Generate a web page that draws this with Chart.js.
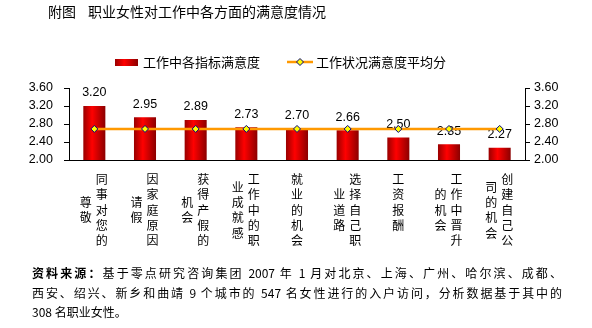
<!DOCTYPE html>
<html>
<head>
<meta charset="utf-8">
<script src="https://cdn.jsdelivr.net/npm/chart.js@4.4.1/dist/chart.umd.min.js"></script>
<style>
  body { margin: 0; background: #fff; }
  #wrap { position: relative; width: 592px; height: 328px; overflow: hidden; }
  #chart1 { position: absolute; left: 0; top: 0; }
  .title { position: absolute; left: 48px; top: 2px; font: 14px "Noto Sans CJK SC"; line-height: 18px; color: #000; white-space: nowrap; }
  .title span { margin-left: 12px; }
  .source { position: absolute; left: 32px; top: 263px; width: 530px; font: 12px "Noto Sans CJK SC"; line-height: 19.5px; color: #000; }
  .source .j { text-align: justify; text-align-last: justify; }
  .source b { font-weight: bold; }
</style>
</head>
<body>
<div id="wrap">
  <canvas id="chart1" width="592" height="328"></canvas>
  <div class="title">附图<span>职业女性对工作中各方面的满意度情况</span></div>
  <div class="source">
    <div class="j"><b>资料来源：</b>基于零点研究咨询集团 2007 年 1 月对北京、上海、广州、哈尔滨、成都、</div>
    <div class="j">西安、绍兴、新乡和曲靖 9 个城市的 547 名女性进行的入户访问，分析数据基于其中的</div>
    <div>308 名职业女性。</div>
  </div>
</div>
<script>
const categories = ['同事对您的尊敬', '因家庭原因请假', '获得产假的机会', '工作中的职业成就感', '就业的机会', '选择自己职业道路', '工资报酬', '工作中晋升的机会', '创建自己公司的机会'];
const satisfaction = [3.20, 2.95, 2.89, 2.73, 2.70, 2.66, 2.50, 2.35, 2.27];
const averageScore = [2.69, 2.69, 2.69, 2.69, 2.69, 2.69, 2.69, 2.69, 2.69];
const yTicks = [2.00, 2.40, 2.80, 3.20, 3.60];

const barPct = 0.435;

function redGradient(ctx, left, right) {
  const g = ctx.createLinearGradient(left, 0, right, 0);
  g.addColorStop(0, '#990000');
  g.addColorStop(0.4, '#ff0000');
  g.addColorStop(1, '#8b0000');
  return g;
}

// value labels above the bars
const valueLabels = {
  id: 'valueLabels',
  afterDatasetDraw(chart, args) {
    if (args.index !== 0) return;
    const ctx = chart.ctx;
    ctx.save();
    ctx.font = '12.5px "Liberation Sans"';
    ctx.fillStyle = '#000';
    ctx.textAlign = 'center';
    ctx.textBaseline = 'middle';
    args.meta.data.forEach((el, i) => {
      ctx.fillText(satisfaction[i].toFixed(2), el.x, el.y - 13);
    });
    ctx.restore();
  }
};

// vertical category labels, 5 chars per column, first column on the right
const categoryLabels = {
  id: 'categoryLabels',
  afterDraw(chart) {
    const { ctx, scales: { x }, chartArea } = chart;
    ctx.save();
    ctx.font = '12px "Noto Sans CJK SC"';
    ctx.fillStyle = '#000';
    ctx.textAlign = 'center';
    ctx.textBaseline = 'middle';
    const rowH = 15.35;
    const top = chartArea.bottom + 19.5;
    categories.forEach((name, i) => {
      const cx = x.getPixelForValue(i);
      const chars = Array.from(name);
      const cols = [chars.slice(0, 5), chars.slice(5)].filter(c => c.length);
      cols.forEach((col, k) => {
        const colX = cols.length === 1 ? cx : (k === 0 ? cx + 7.5 : cx - 8.5);
        const shift = k === 0 ? 0 : (5 - col.length) / 2;
        col.forEach((ch, r) => ctx.fillText(ch, colX, top + (r + shift) * rowH));
      });
    });
    ctx.restore();
  }
};

// legend drawn by hand to get the box + line-with-diamond look
const customLegend = {
  id: 'customLegend',
  afterDraw(chart) {
    const ctx = chart.ctx;
    const ds = chart.data.datasets;
    const y = 62;
    ctx.save();
    ctx.fillStyle = redGradient(ctx, 115, 138);
    ctx.fillRect(115, 59, 23, 7);
    ctx.strokeStyle = '#ff9900';
    ctx.lineWidth = 2.5;
    ctx.beginPath();
    ctx.moveTo(287, y);
    ctx.lineTo(313, y);
    ctx.stroke();
    ctx.fillStyle = '#ffff00';
    ctx.strokeStyle = '#000080';
    ctx.lineWidth = 1;
    ctx.beginPath();
    ctx.moveTo(300, y - 3.5);
    ctx.lineTo(303.5, y);
    ctx.lineTo(300, y + 3.5);
    ctx.lineTo(296.5, y);
    ctx.closePath();
    ctx.fill();
    ctx.stroke();
    ctx.font = '13px "Noto Sans CJK SC"';
    ctx.fillStyle = '#000';
    ctx.textBaseline = 'middle';
    ctx.fillText(ds[0].label, 143, y);
    ctx.fillText(ds[1].label, 316, y);
    ctx.restore();
  }
};

const yAxis = (position, width, pad) => ({
  type: 'linear',
  position: position,
  min: 2,
  max: 3.6,
  afterBuildTicks: (s) => { s.ticks = yTicks.map(v => ({ value: v })); },
  afterFit: (s) => { s.width = width; },
  grid: { drawOnChartArea: false, drawTicks: true, tickLength: 5, color: '#000' },
  border: { display: true, color: '#000', width: 1 },
  ticks: {
    padding: pad,
    color: '#000',
    font: { size: 12.5, family: 'Liberation Sans' },
    callback: (v) => Number(v).toFixed(2)
  }
});

const ctx = document.getElementById('chart1');
new Chart(ctx, {
  data: {
    labels: categories,
    datasets: [
      {
        type: 'bar',
        label: '工作中各指标满意度',
        data: satisfaction,
        order: 1,
        barPercentage: barPct,
        categoryPercentage: 1,
        backgroundColor: (c) => {
          const x = c.chart.scales.x;
          if (c.type !== 'data' || !x) return '#e00000';
          const center = x.getPixelForValue(c.dataIndex);
          const half = x.width / categories.length * barPct / 2;
          if (!isFinite(center) || !isFinite(half)) return '#e00000';
          return redGradient(c.chart.ctx, center - half, center + half);
        },
        borderWidth: 0
      },
      {
        type: 'line',
        label: '工作状况满意度平均分',
        data: averageScore,
        order: 0,
        borderColor: '#ff9900',
        borderWidth: 2.5,
        pointStyle: 'rectRot',
        pointRadius: 3.5,
        pointBackgroundColor: '#ffff00',
        pointBorderColor: '#000080',
        pointBorderWidth: 1,
        tension: 0
      }
    ]
  },
  options: {
    responsive: false,
    animation: false,
    devicePixelRatio: 1,
    layout: { padding: { top: 88, left: 0, right: 0, bottom: 0 } },
    plugins: {
      legend: { display: false },
      tooltip: { enabled: false }
    },
    scales: {
      x: {
        type: 'category',
        afterFit: (s) => { s.height = 168; },
        grid: { display: false },
        border: { display: true, color: '#000', width: 1 },
        ticks: { display: false }
      },
      y: yAxis('left', 69, 11),
      y2: yAxis('right', 67, 4)
    }
  },
  plugins: [valueLabels, categoryLabels, customLegend]
});
</script>
</body>
</html>
